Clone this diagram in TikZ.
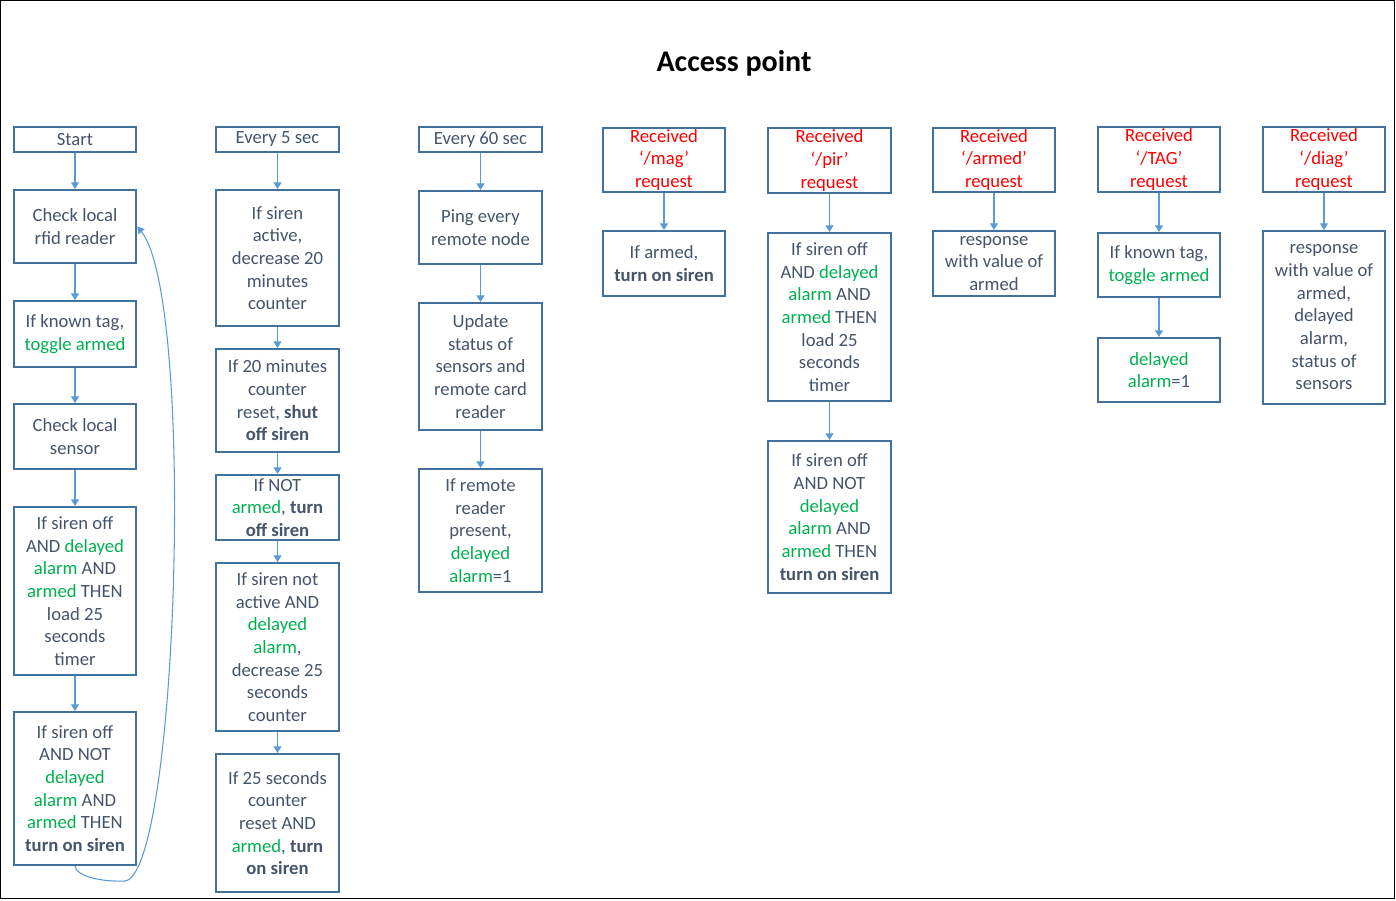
\documentclass[tikz,border=0pt]{standalone}
\usepackage{fontspec}
\setmainfont{Carlito}
\usepackage{xcolor}
\usetikzlibrary{arrows.meta}
\definecolor{boxblue}{HTML}{41719C}
\definecolor{txtgray}{HTML}{44546A}
\definecolor{okgreen}{HTML}{00B050}
\definecolor{linkblue}{HTML}{5B9BD5}
\newcommand{\gr}[1]{\textcolor{okgreen}{#1}}

\begin{document}
\begin{tikzpicture}[x=0.75pt, y=-0.75pt,
    box/.style={draw=boxblue, line width=1.5pt, minimum width=92pt, inner sep=0pt,
        align=center, text=txtgray, font=\fontsize{14}{17}\selectfont},
    req/.style={box, text=red},
    tall/.style={minimum height=#1*0.75pt},
    link/.style={draw=linkblue, line width=0.8pt, -{Triangle[width=6pt,length=5pt]}}]
    \useasboundingbox (0,0) rectangle (1396,900);
    \draw[black, line width=0.9pt] (0.6,0.6) rectangle (1394.6,898.6);
    \node[font=\fontsize{22.5}{27}\selectfont\bfseries] (title) at (734,63) {Access point};

    % local loop
    \node[box, tall=25] (s1) at (75,139.5) {Start};
    \node[box, tall=73] (c1a) at (75,226.5) {Check local\\rfid reader};
    \node[box, tall=66] (c1b) at (75,334) {If known tag,\\\gr{toggle armed}};
    \node[box, tall=65] (c1c) at (75,436.5) {Check local\\sensor};
    \node[box, tall=168] (c1d) at (75,591) {If siren off\\AND \gr{delayed}\\\gr{alarm} AND\\\gr{armed} THEN\\load 25\\seconds\\timer};
    \node[box, tall=153] (c1e) at (75,788.5) {If siren off\\AND NOT\\\gr{delayed}\\\gr{alarm} AND\\\gr{armed} THEN\\\textbf{turn on siren}};

    % 5 sec timer
    \node[box, tall=25] (s2) at (277.5,139.5) {Every 5 sec};
    \node[box, tall=136] (c2a) at (277.5,258) {If siren\\active,\\decrease 20\\minutes\\counter};
    \node[box, tall=103] (c2b) at (277.5,400.5) {If 20 minutes\\counter\\reset, \textbf{shut}\\\textbf{off siren}};
    \node[box, tall=65] (c2c) at (277.5,507.5) {If NOT\\\gr{armed}, \textbf{turn}\\\textbf{off siren}};
    \node[box, tall=168] (c2d) at (277.5,647) {If siren not\\active AND\\\gr{delayed}\\\gr{alarm},\\decrease 25\\seconds\\counter};
    \node[box, tall=138] (c2e) at (277.5,823) {If 25 seconds\\counter\\reset AND\\\gr{armed}, \textbf{turn}\\\textbf{on siren}};

    % 60 sec timer
    \node[box, tall=25] (s3) at (480.5,139.5) {Every 60 sec};
    \node[box, tall=73] (c3a) at (480.5,227.5) {Ping every\\remote node};
    \node[box, tall=127] (c3b) at (480.5,366.5) {Update\\status of\\sensors and\\remote card\\reader};
    \node[box, tall=123] (c3c) at (480.5,530.5) {If remote\\reader\\present,\\\gr{delayed}\\\gr{alarm}=1};

    % requests
    \node[req, tall=64] (s4) at (664,160) {Received\\‘/mag’\\request};
    \node[box, tall=65] (c4a) at (664,263.5) {If armed,\\\textbf{turn on siren}};

    \node[req, tall=65] (s5) at (829.5,160.5) {Received\\‘/pir’\\request};
    \node[box, tall=168] (c5a) at (829.5,317) {If siren off\\AND \gr{delayed}\\\gr{alarm} AND\\\gr{armed} THEN\\load 25\\seconds\\timer};
    \node[box, tall=152] (c5b) at (829.5,517) {If siren off\\AND NOT\\\gr{delayed}\\\gr{alarm} AND\\\gr{armed} THEN\\\textbf{turn on siren}};

    \node[req, tall=64] (s6) at (994,160) {Received\\‘/armed’\\request};
    \node[box, tall=65] (c6a) at (994,263.5) {response\\with value of\\armed};

    \node[req, tall=65] (s7) at (1159,159.5) {Received\\‘/TAG’\\request};
    \node[box, tall=64] (c7a) at (1159,265) {If known tag,\\\gr{toggle armed}};
    \node[box, tall=64] (c7b) at (1159,370) {\gr{delayed}\\\gr{alarm}=1};

    \node[req, tall=65] (s8) at (1324,159.5) {Received\\‘/diag’\\request};
    \node[box, tall=173] (c8a) at (1324,317.5) {response\\with value of\\armed,\\delayed\\alarm,\\status of\\sensors};

    \foreach \a/\b in {s1/c1a, c1a/c1b, c1b/c1c, c1c/c1d, c1d/c1e,
                      s2/c2a, c2a/c2b, c2b/c2c, c2c/c2d, c2d/c2e,
                      s3/c3a, c3a/c3b, c3b/c3c, s4/c4a, s5/c5a, c5a/c5b,
                      s6/c6a, s7/c7a, c7a/c7b, s8/c8a}
        \draw[link] (\a.south) -- (\b.north);

    % back to the reader
    \coordinate (loopbot) at (125,881);
    \draw[link] (c1e.south) .. controls (76,876) and (100,882) .. (loopbot)
        .. controls (178,874) and (196,300) .. (c1a.east);
\end{tikzpicture}
\end{document}
